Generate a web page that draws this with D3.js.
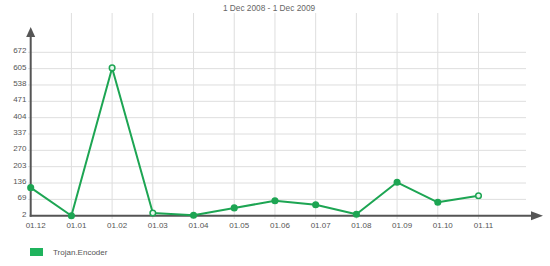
<!DOCTYPE html>
<html>
<head>
<meta charset="utf-8">
<script src="https://cdn.jsdelivr.net/npm/d3@7"></script>
<style>
  body { margin: 0; background: #fff; }
  svg { display: block; font-family: "Liberation Sans", Arial, sans-serif; }
</style>
</head>
<body>
<svg></svg>
<script>
let months = ["01.12", "01.01", "01.02", "01.03", "01.04", "01.05", "01.06", "01.07", "01.08", "01.09", "01.10", "01.11"];
let counts = [117, 2, 608, 13, 4, 34, 63, 47, 8, 139, 57, 84];
let yTicks = [2, 69, 136, 203, 270, 337, 404, 471, 538, 605, 672];
let hollow = ["01.02", "01.03", "01.11"]; // markers drawn with a light centre
let seriesName = "Trojan.Encoder";
let title = "1 Dec 2008 - 1 Dec 2009";

let width = 550;
let height = 266;
let green = "#1da553";

let svg = d3.select("svg").attr("width", width).attr("height", height);

let xScale = d3.scalePoint().domain(months).range([30.7, 478.5]);
let yScale = d3.scaleLinear().domain([2, 672]).range([215.7, 52.3]);

// title
svg.append("text")
  .attr("x", 269).attr("y", 11)
  .attr("text-anchor", "middle")
  .attr("font-size", 8.3).attr("fill", "#666")
  .text(title);

// horizontal grid
svg.append("g").selectAll("line")
  .data(yTicks.slice(1))
  .enter().append("line")
  .attr("x1", 28).attr("x2", 526)
  .attr("y1", d => yScale(d)).attr("y2", d => yScale(d))
  .attr("stroke", "#dedede").attr("stroke-width", 1);

// vertical grid
svg.append("g").selectAll("line")
  .data(months.slice(1))
  .enter().append("line")
  .attr("x1", d => xScale(d)).attr("x2", d => xScale(d))
  .attr("y1", 13).attr("y2", 219)
  .attr("stroke", "#dedede").attr("stroke-width", 1);

// y axis labels
svg.append("g").selectAll("text")
  .data(yTicks)
  .enter().append("text")
  .attr("x", 26.5).attr("y", d => yScale(d) + 1)
  .attr("text-anchor", "end")
  .attr("font-size", 8).attr("fill", "#555")
  .text(d => d);

// x axis labels
svg.append("g").selectAll("text")
  .data(months)
  .enter().append("text")
  .attr("x", d => xScale(d) + 5).attr("y", 228)
  .attr("text-anchor", "middle")
  .attr("font-size", 8).attr("fill", "#555")
  .text(d => d);

// axes with arrows
let x0 = xScale(months[0]);
let y0 = yScale(yTicks[0]);
svg.append("line")
  .attr("x1", x0).attr("x2", x0).attr("y1", y0 + 1).attr("y2", 35)
  .attr("stroke", "#555").attr("stroke-width", 2);
svg.append("path")
  .attr("d", `M${x0},27 L${x0 - 4.5},37 L${x0 + 4.5},37 Z`)
  .attr("fill", "#555");
svg.append("line")
  .attr("x1", x0 - 1).attr("x2", 533).attr("y1", y0).attr("y2", y0)
  .attr("stroke", "#555").attr("stroke-width", 2);
svg.append("path")
  .attr("d", `M543,${y0} L531,${y0 - 4.5} L531,${y0 + 4.5} Z`)
  .attr("fill", "#555");

// series line
let line = d3.line()
  .x((d, i) => xScale(months[i]))
  .y(d => yScale(d));

svg.append("path")
  .datum(counts)
  .attr("d", line)
  .attr("fill", "none")
  .attr("stroke", green)
  .attr("stroke-width", 2)
  .attr("stroke-linejoin", "round");

svg.append("g").selectAll("circle")
  .data(counts)
  .enter().append("circle")
  .attr("cx", (d, i) => xScale(months[i]))
  .attr("cy", d => yScale(d))
  .attr("r", 2.8)
  .attr("fill", (d, i) => hollow.includes(months[i]) ? "#e8f6ee" : green)
  .attr("stroke", green)
  .attr("stroke-width", 1.5);

// legend
svg.append("rect")
  .attr("x", 30).attr("y", 248).attr("width", 13).attr("height", 8)
  .attr("fill", "#1fb35d");
svg.append("text")
  .attr("x", 53).attr("y", 255)
  .attr("font-size", 8).attr("fill", "#555")
  .text(seriesName);
</script>
</body>
</html>
